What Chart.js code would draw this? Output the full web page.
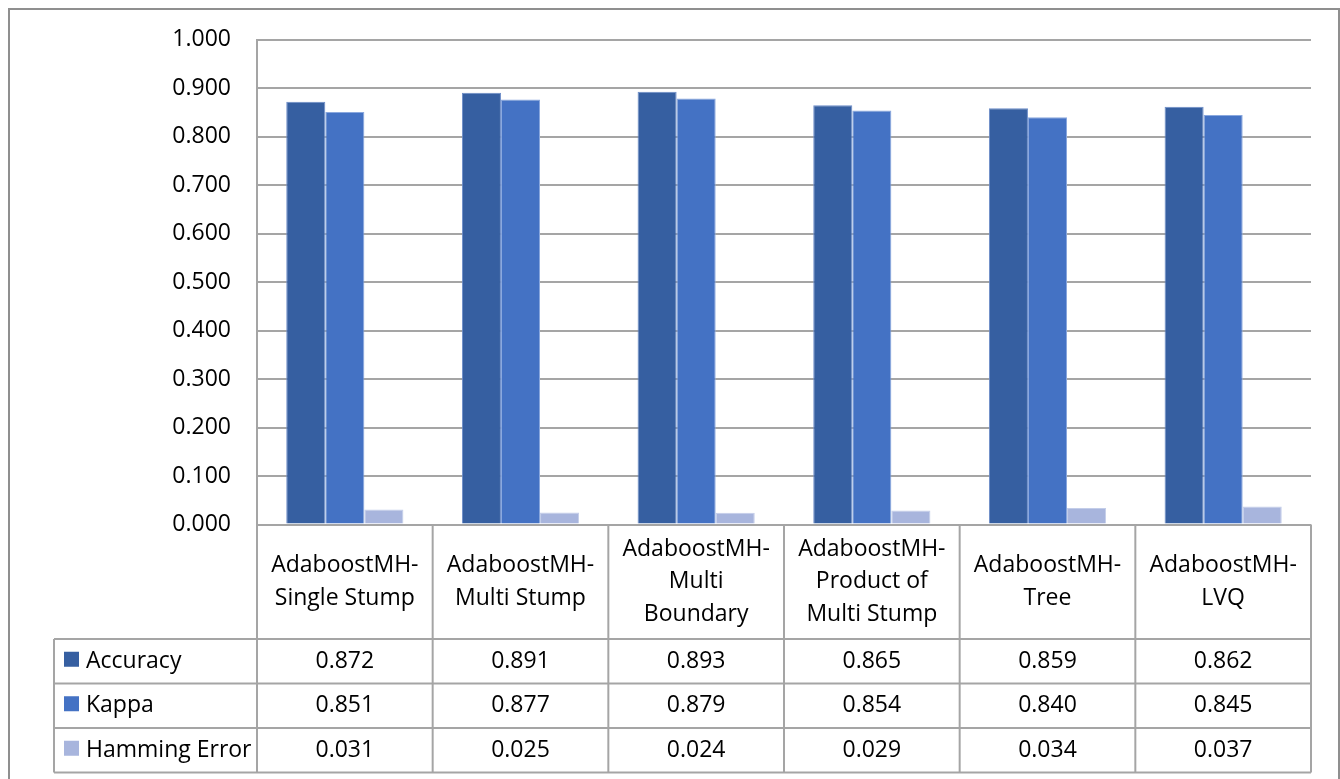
<!DOCTYPE html>
<html>
<head>
<meta charset="utf-8">
<title>AdaboostMH variants: Accuracy, Kappa and Hamming Error</title>
<script src="https://cdn.jsdelivr.net/npm/chart.js@4.4.1/dist/chart.umd.min.js"></script>
<style>
  html, body { margin: 0; padding: 0; background: #ffffff; }
  #wrap { width: 1340px; height: 779px; position: relative; }
  canvas { display: block; }
</style>
</head>
<body>
<div id="wrap"><canvas id="chart" width="1340" height="779"></canvas></div>
<script>
// Category names, one entry per line of the wrapped label
const categories = [
  ['AdaboostMH-', 'Single Stump'],
  ['AdaboostMH-', 'Multi Stump'],
  ['AdaboostMH-', 'Multi', 'Boundary'],
  ['AdaboostMH-', 'Product of', 'Multi Stump'],
  ['AdaboostMH-', 'Tree'],
  ['AdaboostMH-', 'LVQ']
];

const seriesNames = ['Accuracy', 'Kappa', 'Hamming Error'];
const accuracy = [0.872, 0.891, 0.893, 0.865, 0.859, 0.862];
const kappa = [0.851, 0.877, 0.879, 0.854, 0.840, 0.845];
const hammingError = [0.031, 0.025, 0.024, 0.029, 0.034, 0.037];

const yTicks = [0, 0.1, 0.2, 0.3, 0.4, 0.5, 0.6, 0.7, 0.8, 0.9, 1.0];

const colors = ['#365FA1', '#4472C4', '#A8B5DD'];
const edgeColors = ['#6C8CC8', '#8AA8DE', '#C3CDE9'];
const lineGrey = '#A5A5A5';
const FONT = '"Open Sans", "Liberation Sans", sans-serif';
const FONT_SIZE = 23;

const seriesValues = [accuracy, kappa, hammingError];

// Data table under the plot: category header row + one row per series
const dataTablePlugin = {
  id: 'dataTable',
  beforeDraw(chart) {
    const ctx = chart.ctx;
    ctx.save();
    ctx.strokeStyle = '#8F8F8F';
    ctx.lineWidth = 2;
    ctx.strokeRect(9, 9, 1330, 820);
    ctx.restore();
  },
  afterDraw(chart) {
    const ctx = chart.ctx;
    const area = chart.chartArea;
    const x = chart.scales.x;
    const n = categories.length;
    const colW = (area.right - area.left) / n;
    const headerBottom = area.bottom + 114.5;
    const rowH = 44.5;
    const tableLeft = 54;
    const tableBottom = headerBottom + rowH * seriesNames.length;

    ctx.save();
    ctx.strokeStyle = lineGrey;
    ctx.lineWidth = 2;

    // vertical column borders
    for (let k = 0; k <= n; k++) {
      const xx = area.left + k * colW;
      ctx.beginPath();
      ctx.moveTo(xx, area.bottom);
      ctx.lineTo(xx, tableBottom);
      ctx.stroke();
    }
    ctx.beginPath();
    ctx.moveTo(tableLeft, headerBottom);
    ctx.lineTo(tableLeft, tableBottom);
    ctx.stroke();

    // horizontal row borders
    for (let r = 0; r <= seriesNames.length; r++) {
      const yy = headerBottom + r * rowH;
      ctx.beginPath();
      ctx.moveTo(tableLeft, yy);
      ctx.lineTo(area.right, yy);
      ctx.stroke();
    }

    ctx.fillStyle = '#000000';
    ctx.font = FONT_SIZE + 'px ' + FONT;
    ctx.textBaseline = 'middle';

    // category header labels
    ctx.textAlign = 'center';
    const headerMid = (area.bottom + headerBottom) / 2;
    const lineH = 32.5;
    categories.forEach((lines, i) => {
      const cx = x.getPixelForValue(i);
      const y0 = headerMid - (lines.length - 1) * lineH / 2;
      lines.forEach((t, j) => ctx.fillText(t, cx, y0 + j * lineH));
    });

    // series rows: legend key, name, values
    seriesNames.forEach((name, r) => {
      const cy = headerBottom + r * rowH + rowH / 2;
      ctx.fillStyle = colors[r];
      ctx.fillRect(64, cy - 9.5, 15, 15);
      ctx.fillStyle = '#000000';
      ctx.textAlign = 'left';
      ctx.fillText(name, 86, cy);
      ctx.textAlign = 'center';
      seriesValues[r].forEach((v, i) => {
        ctx.fillText(v.toFixed(3), x.getPixelForValue(i), cy);
      });
    });
    ctx.restore();
  }
};

new Chart(document.getElementById('chart'), {
  type: 'bar',
  data: {
    labels: categories.map(l => l.join(' ')),
    datasets: seriesNames.map((name, s) => ({
      label: name,
      data: seriesValues[s],
      backgroundColor: colors[s],
      borderColor: edgeColors[s],
      borderWidth: 1,
      borderSkipped: 'start',
      barPercentage: 1.0,
      categoryPercentage: 0.667
    }))
  },
  options: {
    responsive: false,
    animation: false,
    devicePixelRatio: 1,
    layout: { padding: { left: 0, right: 29, top: 38, bottom: 254.5 } },
    plugins: {
      legend: { display: false },
      tooltip: { enabled: false }
    },
    scales: {
      x: {
        display: false
      },
      y: {
        min: 0,
        max: 1,
        afterBuildTicks(scale) {
          scale.ticks = yTicks.map(v => ({ value: v }));
        },
        afterFit(scale) { scale.width = 257; },
        ticks: {
          padding: 26,
          color: '#000000',
          font: { family: FONT, size: FONT_SIZE },
          callback: v => Number(v).toFixed(3)
        },
        grid: {
          color: lineGrey,
          lineWidth: 2,
          drawTicks: false
        },
        border: { display: true, color: lineGrey, width: 2 }
      }
    }
  },
  plugins: [dataTablePlugin]
});
</script>
</body>
</html>
